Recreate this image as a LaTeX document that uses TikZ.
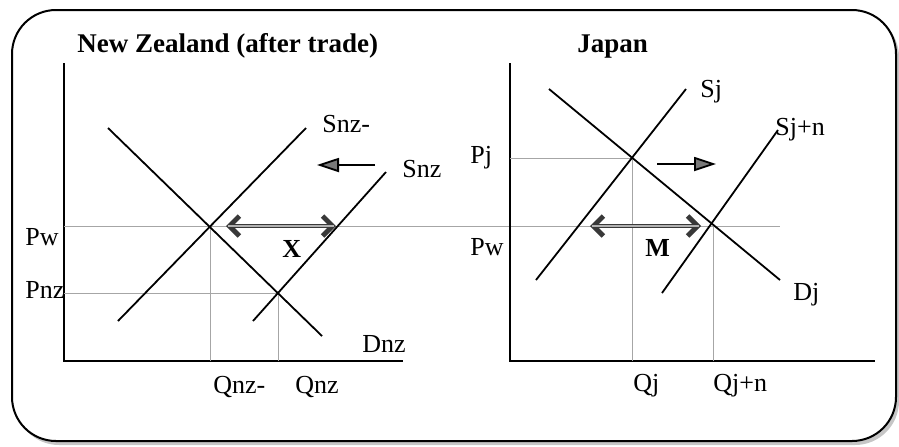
\documentclass[tikz,border=0pt]{standalone}
\usepackage{fontspec}
\setmainfont{Liberation Serif}
\usetikzlibrary{positioning,arrows.meta,calc}
\tikzset{
  lbl/.style    ={anchor=base west, inner sep=0pt, font=\fontsize{13}{15}\selectfont},
  ttl/.style    ={anchor=base west, inner sep=0pt, font=\fontsize{13.5}{16}\selectfont\bfseries},
  axis/.style   ={line width=1.4pt},
  curve/.style  ={line width=0.9pt},
  guide/.style  ={gray!70, line width=0.4pt},
  shiftarr/.style ={line width=0.9pt, -{Triangle[length=11pt, width=7pt, fill=gray!50!black!70]}},
  flow/.style   ={line width=2.4pt, gray!45!black, {Straight Barb[length=5pt, width=10pt]}-{Straight Barb[length=5pt, width=10pt]}},
  flowin/.style ={line width=0.9pt, gray!60, shorten <=1pt, shorten >=1pt},
}

\begin{document}
\begin{tikzpicture}[x=0.5pt, y=-0.5pt]
  \useasboundingbox (0,0) rectangle (899,446);

  % frame with shadow
  \fill[gray!45, rounded corners=22pt] (15,13) rectangle (899,445);
  \draw[line width=1pt, fill=white, rounded corners=22pt] (12,10) rectangle (896,441);

  % ---- New Zealand ----
  \node[ttl] (nztitle) at (77,52) {New Zealand (after trade)};
  \coordinate (nzo) at (64,361);
  \coordinate (nztop) at (64,63);
  \coordinate (nzend) at (403,361);
  \draw[axis] (nztop) -- (nzo) -- (nzend);

  \coordinate (pwl) at (64,226);
  \coordinate (pwr) at (780,226);
  \coordinate (nzw) at (210,226);
  \coordinate (nzaut) at (278,293);
  \draw[guide] (pwl) -- (pwr);
  \draw[guide] (64,293) -- (nzaut);
  \draw[guide] (nzw) -- (nzw |- nzo);
  \draw[guide] (nzaut) -- (nzaut |- nzo);

  \coordinate (dnza) at (108,128);  \coordinate (dnzb) at (322,336);
  \coordinate (snzma) at (118,321); \coordinate (snzmb) at (306,128);
  \coordinate (snza) at (253,321);  \coordinate (snzb) at (386,172);
  \draw[curve] (dnza) -- (dnzb);
  \draw[curve] (snzma) -- (snzmb);
  \draw[curve] (snza) -- (snzb);

  \coordinate (xl) at (226,226); \coordinate (xr) at (336,226);
  \draw[flow] (xl) -- (xr);
  \draw[flowin] (xl) -- (xr);
  \coordinate (nzsa) at (375,165); \coordinate (nzsb) at (317,165);
  \draw[shiftarr] (nzsa) -- (nzsb);

  \node[lbl] (snzm) at (322,132) {Snz-};
  \node[lbl] (snz) at (402,177) {Snz};
  \node[lbl] (pwnz) at (25,245) {Pw};
  \node[lbl] (pnz) at (25,298) {Pnz};
  \node[lbl] (dnz) at (362,352) {Dnz};
  \node[lbl] (qnzm) at (213,393) {Qnz-};
  \node[lbl] (qnz) at (295,393) {Qnz};
  \node[lbl, font=\fontsize{13}{15}\selectfont\bfseries] (x) at (282,257) {X};

  % ---- Japan ----
  \node[ttl] (jptitle) at (577,52) {Japan};
  \coordinate (jpo) at (510,361);
  \coordinate (jptop) at (510,63);
  \coordinate (jpend) at (875,361);
  \draw[axis] (jptop) -- (jpo) -- (jpend);

  \coordinate (jpaut) at (632,158);
  \coordinate (jpw) at (713,226);
  \draw[guide] (510,158) -- (jpaut);
  \draw[guide] (jpaut) -- (jpaut |- jpo);
  \draw[guide] (jpw) -- (jpw |- jpo);

  \coordinate (dja) at (549,89);  \coordinate (djb) at (780,280);
  \coordinate (sja) at (536,280); \coordinate (sjb) at (686,89);
  \coordinate (sjna) at (662,293); \coordinate (sjnb) at (778,130);
  \draw[curve] (dja) -- (djb);
  \draw[curve] (sja) -- (sjb);
  \draw[curve] (sjna) -- (sjnb);

  \coordinate (ml) at (590,226); \coordinate (mr) at (701,226);
  \draw[flow] (ml) -- (mr);
  \draw[flowin] (ml) -- (mr);
  \coordinate (jpsa) at (657,164); \coordinate (jpsb) at (716,164);
  \draw[shiftarr] (jpsa) -- (jpsb);

  \node[lbl] (sj) at (700,97) {Sj};
  \node[lbl] (sjn) at (775,135) {Sj+n};
  \node[lbl] (pj) at (470,163) {Pj};
  \node[lbl] (pwjp) at (470,255) {Pw};
  \node[lbl] (dj) at (793,300) {Dj};
  \node[lbl] (qj) at (633,391) {Qj};
  \node[lbl] (qjn) at (713,391) {Qj+n};
  \node[lbl, font=\fontsize{13}{15}\selectfont\bfseries] (m) at (645,256) {M};
\end{tikzpicture}
\end{document}
